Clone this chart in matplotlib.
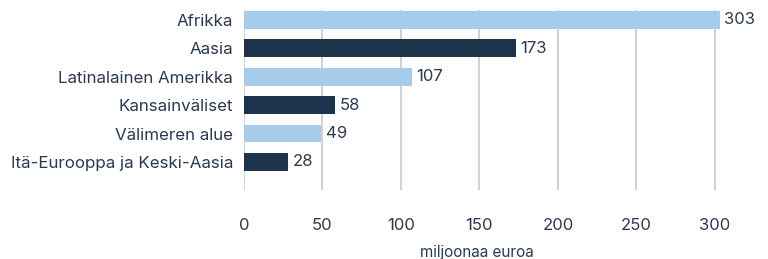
import matplotlib.pyplot as plt

regions = [
    "Afrikka",
    "Aasia",
    "Latinalainen Amerikka",
    "Kansainväliset",
    "Välimeren alue",
    "Itä-Eurooppa ja Keski-Aasia",
]
values = [303, 173, 107, 58, 49, 28]
xticks = [0, 50, 100, 150, 200, 250, 300]

LIGHT = "#a7cbeb"
DARK = "#1e344d"
TEXT = "#2b3a4f"
GRID = "#c3c9d1"

plt.rcParams["font.family"] = ["Inter", "DejaVu Sans"]

fig = plt.figure(figsize=(7.68, 2.59), dpi=100)
W, H = 768, 259
# axes box in pixels: left 244, top 10, bottom 190
ax = fig.add_axes([244 / W, (H - 190) / H, 518 / W, 180 / H])

colors = [LIGHT if i % 2 == 0 else DARK for i in range(len(values))]
ypos = list(range(len(values)))
ax.barh(ypos, values, height=0.63, color=colors, zorder=3)

for y, v in zip(ypos, values):
    ax.text(v + 3, y, str(v), va="center", ha="left", fontsize=12, color=TEXT)

ax.set_ylim(5.99, -0.35)
ax.set_xlim(0, 330)
ax.set_yticks(ypos)
ax.set_yticklabels(regions, fontsize=12.2, color=TEXT)
ax.set_xticks(xticks)
ax.set_xticklabels([str(t) for t in xticks], fontsize=12, color=TEXT)
ax.tick_params(axis="y", length=0, pad=8)
ax.tick_params(axis="x", length=0, pad=20)

ax.xaxis.grid(True, color=GRID, linewidth=1.2, zorder=0)
for s in ax.spines.values():
    s.set_visible(False)

ax.set_xlabel("miljoonaa euroa", fontsize=11, color=TEXT)
ax.xaxis.set_label_coords((477 - 244) / 518, -(245 - 190) / 180)

plt.savefig("out.png", dpi=100)
